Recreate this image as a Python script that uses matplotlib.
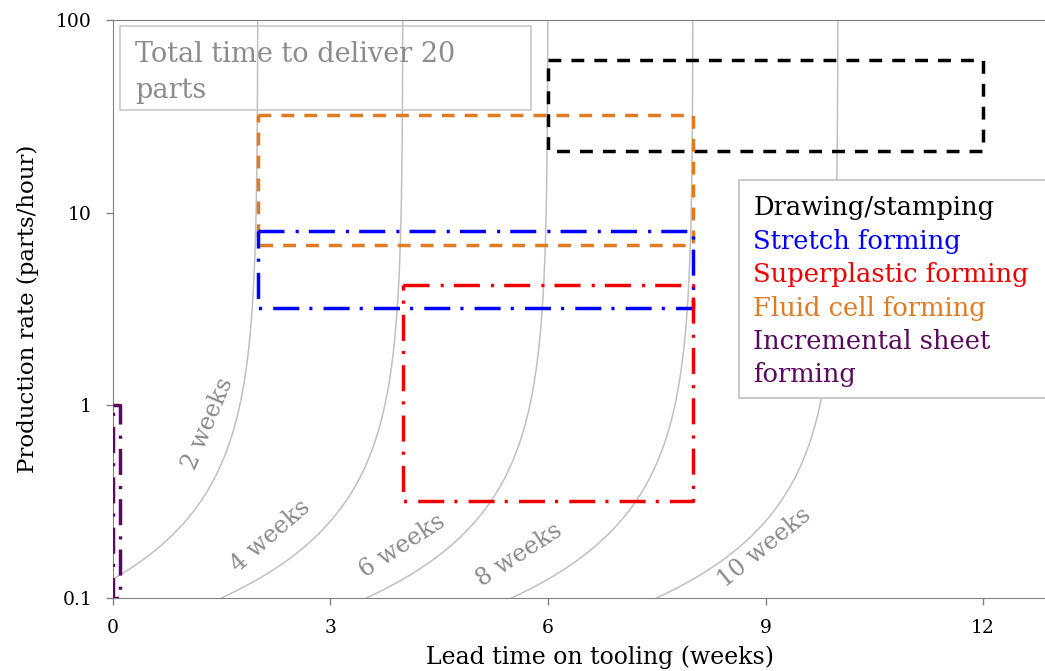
import numpy as np
import matplotlib
matplotlib.use("Agg")
import matplotlib.pyplot as plt
from matplotlib.patches import Rectangle

plt.rcParams['font.family'] = ['DejaVu Serif']

# process windows: lead time (weeks) and production rate (parts/hour)
methods = ["Drawing/stamping", "Stretch forming", "Superplastic forming",
           "Fluid cell forming", "Incremental sheet\nforming"]
colors = ["#000000", "#0000ff", "#ee0000", "#e07b22", "#5a0a5e"]
lead_lo = [6, 2, 4, 2, 0]
lead_hi = [12, 8, 8, 8, 0.1]
rate_lo = [21, 3.2, 0.32, 6.8, 0.1]
rate_hi = [62, 8, 4.2, 32, 1.0]
draw_order = [0, 3, 1, 2, 4]

# iso-lines of total time to deliver 20 parts
n_parts = 20
hours_per_week = 80
total_weeks = [2, 4, 6, 8, 10]
label_x = [1.31, 2.17, 3.99, 5.61, 8.98]
label_y = [0.80, 0.208, 0.185, 0.167, 0.182]
label_rot = [67, 41, 33, 33, 39]

fig = plt.figure(figsize=(10.45, 6.71), dpi=100)
# axes runs past the right edge of the figure, like the original
ax = fig.add_axes([0.108, 0.109, 0.932, 0.861])
ax.set_yscale('log')

rate = np.logspace(-1, 2, 400)
for T, lx, ly, rot in zip(total_weeks, label_x, label_y, label_rot):
    lead = T - n_parts / (rate * hours_per_week)
    ax.plot(lead, rate, color='#c0c0c0', lw=1.1, zorder=1)
    ax.text(lx, ly, f"{T} weeks", color='#8a8a8a', fontsize=17,
            rotation=rot, ha='center', va='center', rotation_mode='anchor')

dashed = (0, (3.7, 2.9))
dashdot = (0, (7.5, 3.2, 0.9, 2.9))
styles = [dashed, dashdot, dashdot, dashed, dashdot]
for i in draw_order:
    x0, x1 = lead_lo[i], lead_hi[i]
    y0, y1 = rate_lo[i], rate_hi[i]
    ax.plot([x0, x1, x1, x0, x0], [y1, y1, y0, y0, y1], color=colors[i],
            ls=styles[i], lw=2.5, zorder=3)

ax.set_xlim(0, 13.43)
ax.set_ylim(0.1, 100)
ax.set_xticks([0, 3, 6, 9, 12])
ax.set_yticks([0.1, 1, 10, 100])
ax.set_yticklabels(["0.1", "1", "10", "100"])
ax.minorticks_off()
ax.tick_params(labelsize=13.5, color='#808080', length=5, width=1, pad=10)
for side in ['left', 'bottom', 'top']:
    ax.spines[side].set_color('#808080')
ax.spines['right'].set_visible(False)
ax.set_xlabel("Lead time on tooling (weeks)", fontsize=17, labelpad=6)
ax.set_ylabel("Production rate (parts/hour)", fontsize=16.5, labelpad=12)

# title box
ax.add_patch(Rectangle((0.0072, 0.844), 0.4225, 0.1456, transform=ax.transAxes,
                       fill=False, edgecolor='#c8c8c8', lw=1.2, zorder=4))
ax.text(0.0225, 0.964, "Total time to deliver 20\nparts", transform=ax.transAxes,
        color='#8c8c8c', fontsize=19.5, va='top', ha='left', linespacing=1.45)

# legend box
ax.add_patch(Rectangle((0.6432, 0.346), 0.36, 0.377, transform=ax.transAxes,
                       facecolor='white', edgecolor='#c0c0c0', lw=1.2, zorder=4,
                       clip_on=False))
ty = 0.675
for name, c in zip(methods, colors):
    for line in name.split("\n"):
        ax.text(0.6575, ty, line, transform=ax.transAxes, color=c,
                fontsize=18.5, va='center', ha='left', zorder=5)
        ty -= 0.0578

fig.savefig("out.png", dpi=100)
